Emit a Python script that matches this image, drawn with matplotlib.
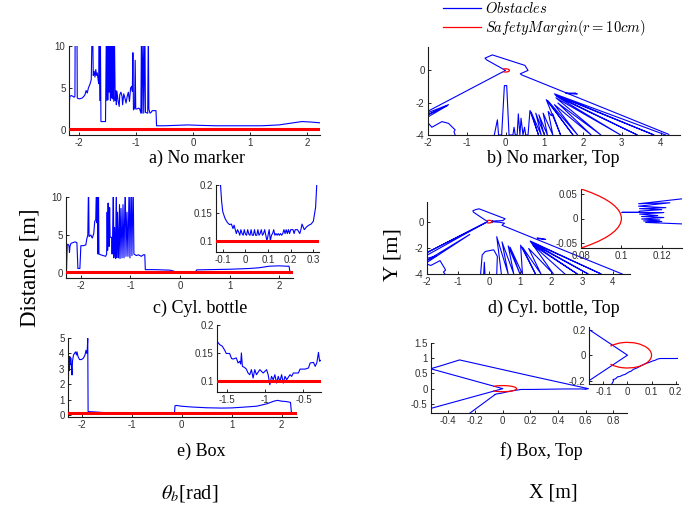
import numpy as np
import matplotlib
matplotlib.use("Agg")
import matplotlib.pyplot as plt
from matplotlib.lines import Line2D
from matplotlib.patches import Arc
from matplotlib.ticker import FuncFormatter
from matplotlib.font_manager import FontProperties

W, H = 691, 507
BLUE = "#0000ff"
RED = "#ff0000"
SERIF = "Liberation Serif"

plt.rcParams.update({
    "font.family": "Liberation Sans",
    "font.size": 7,
    "axes.unicode_minus": False,
    "mathtext.fontset": "stix",
    "axes.linewidth": 0.8,
    "axes.edgecolor": "#1a1a1a",
    "axes.spines.top": False,
    "axes.spines.right": False,
    "xtick.direction": "in",
    "ytick.direction": "in",
    "xtick.major.size": 2.2,
    "ytick.major.size": 2.2,
    "xtick.major.width": 0.6,
    "ytick.major.width": 0.6,
    "xtick.major.pad": 2.0,
    "ytick.major.pad": 2.5,
    "xtick.labelcolor": "#303030",
    "ytick.labelcolor": "#303030",
})

SAFETY_MARGIN = 0.1  # m

# (theta [rad], distance [m]); 12 marks readings beyond the plotted range
NO_MARKER = [
    (-2.18, 2.7), (-2.165, 4.0), (-2.14, 4.1), (-2.11, 4.0), (-2.09, 3.9), (-2.076, 4.0),
    (-2.072, 12), (-2.04, 12), (-2.035, 3.8), (-2.0, 3.7), (-1.95, 3.8), (-1.92, 4.0),
    (-1.9, 4.2), (-1.88, 4.7), (-1.86, 4.4), (-1.84, 5.0), (-1.81, 5.5), (-1.79, 6.0),
    (-1.775, 12), (-1.765, 12), (-1.755, 6.5), (-1.74, 7.0), (-1.725, 6.3), (-1.71, 7.2),
    (-1.7, 6.5), (-1.685, 6.8), (-1.67, 6.0), (-1.66, 5.5), (-1.65, 12), (-1.64, 3.5),
    (-1.63, 12), (-1.62, 1.0), (-1.58, 1.0), (-1.54, 1.0), (-1.525, 12), (-1.515, 3.5),
    (-1.505, 12), (-1.495, 3.6), (-1.485, 12), (-1.475, 4.5), (-1.465, 12), (-1.455, 3.5),
    (-1.445, 12), (-1.435, 3.8), (-1.425, 12), (-1.415, 3.7), (-1.405, 12), (-1.395, 3.4),
    (-1.385, 12), (-1.37, 3.5), (-1.36, 4.7), (-1.35, 3.0), (-1.34, 4.6), (-1.32, 3.5),
    (-1.3, 2.8), (-1.29, 4.2), (-1.27, 4.5), (-1.25, 4.0), (-1.24, 3.0), (-1.22, 4.3),
    (-1.2, 3.8), (-1.18, 3.2), (-1.16, 4.0), (-1.14, 4.5), (-1.12, 3.4), (-1.1, 5.0),
    (-1.08, 5.2), (-1.07, 4.6), (-1.06, 9.2), (-1.05, 2.4), (-1.03, 2.6), (-1.02, 8.3),
    (-1.01, 2.5), (-0.99, 2.5), (-0.96, 2.6), (-0.94, 2.5), (-0.92, 2.0), (-0.91, 12),
    (-0.9, 2.0), (-0.88, 12), (-0.87, 2.0), (-0.85, 12), (-0.84, 2.1), (-0.8, 2.0),
    (-0.79, 12), (-0.78, 2.5), (-0.76, 2.0), (-0.74, 2.1), (-0.72, 2.3), (-0.68, 2.3),
    (-0.655, 2.3), (-0.645, 0.5), (-0.5, 0.5), (-0.3, 0.55), (-0.1, 0.6), (0.1, 0.55),
    (0.4, 0.5), (0.8, 0.5), (1.2, 0.5), (1.5, 0.6), (1.7, 0.8), (1.9, 1.0), (2.05, 0.95),
    (2.22, 0.85),
]

CYL_BOTTLE = [
    (-2.29, 0.3), (-2.275, 3.7), (-2.26, 3.8), (-2.24, 3.6), (-2.23, 2.7), (-2.22, 3.5),
    (-2.2, 3.9), (-2.16, 4.0), (-2.12, 4.1), (-2.08, 4.0), (-2.06, 0.6), (-2.02, 0.6),
    (-2.0, 3.6), (-1.95, 3.6), (-1.9, 3.7), (-1.88, 4.5), (-1.86, 5.0), (-1.845, 12),
    (-1.835, 4.8), (-1.8, 5.0), (-1.77, 4.6), (-1.74, 5.2), (-1.72, 6.8), (-1.7, 7.0),
    (-1.685, 12), (-1.675, 6.6), (-1.665, 12), (-1.655, 2.5), (-1.645, 12), (-1.635, 2.5),
    (-1.6, 2.4), (-1.55, 2.3), (-1.5, 2.2), (-1.48, 2.5), (-1.47, 8.0), (-1.46, 3.0),
    (-1.45, 9.2), (-1.44, 5.0), (-1.43, 3.5), (-1.42, 8.6), (-1.41, 4.7), (-1.38, 4.7),
    (-1.37, 2.5), (-1.36, 4.6), (-1.345, 12), (-1.335, 2.0), (-1.32, 6.0), (-1.3, 1.9),
    (-1.285, 12), (-1.275, 2.0), (-1.26, 8.0), (-1.24, 2.0), (-1.22, 9.0), (-1.21, 1.9),
    (-1.19, 8.5), (-1.17, 2.0), (-1.15, 9.0), (-1.13, 2.0), (-1.105, 12), (-1.09, 2.2),
    (-1.07, 8.0), (-1.05, 2.2), (-1.025, 12), (-1.01, 2.0), (-0.985, 12), (-0.97, 2.3),
    (-0.945, 12), (-0.93, 2.5), (-0.88, 2.3), (-0.84, 2.4), (-0.78, 2.2), (-0.74, 2.4),
    (-0.71, 2.4), (-0.7, 0.45), (-0.5, 0.45), (-0.3, 0.4), (-0.2, 0.38), (-0.15, 0.3),
    (-0.12, 0.24),
    # close to the bottle
    (-0.11, 0.2), (-0.105, 0.17), (-0.1, 0.152), (-0.09, 0.14), (-0.08, 0.133),
    (-0.07, 0.129), (-0.062, 0.13), (-0.055, 0.122), (-0.05, 0.128), (-0.045, 0.12),
    (-0.04, 0.113), (-0.035, 0.12), (-0.03, 0.116), (-0.025, 0.11), (-0.02, 0.12),
    (-0.015, 0.113), (-0.01, 0.11), (-0.005, 0.12), (0.0, 0.112), (0.005, 0.11),
    (0.01, 0.12), (0.015, 0.112), (0.02, 0.11), (0.025, 0.12), (0.03, 0.11),
    (0.035, 0.11), (0.04, 0.12), (0.045, 0.11), (0.05, 0.11), (0.055, 0.12),
    (0.06, 0.11), (0.065, 0.113), (0.07, 0.12), (0.075, 0.11), (0.08, 0.113),
    (0.085, 0.12), (0.09, 0.11), (0.095, 0.1), (0.1, 0.11), (0.105, 0.12),
    (0.11, 0.1), (0.115, 0.11), (0.12, 0.113), (0.125, 0.12), (0.13, 0.11),
    (0.135, 0.113), (0.14, 0.11), (0.145, 0.113), (0.15, 0.11), (0.155, 0.113),
    (0.16, 0.11), (0.165, 0.113), (0.17, 0.12), (0.175, 0.113), (0.18, 0.12),
    (0.185, 0.113), (0.19, 0.12), (0.195, 0.113), (0.2, 0.12), (0.21, 0.12),
    (0.215, 0.113), (0.22, 0.12), (0.23, 0.12), (0.24, 0.113), (0.245, 0.12),
    (0.25, 0.13), (0.26, 0.12), (0.27, 0.125), (0.28, 0.128), (0.29, 0.13),
    (0.3, 0.135), (0.31, 0.16), (0.315, 0.2), (0.325, 0.3),
    (0.34, 0.42), (0.6, 0.45), (1.0, 0.5), (1.4, 0.6), (1.6, 0.7), (1.8, 0.9),
    (2.0, 0.95), (2.15, 0.9), (2.2, 0.9), (2.22, 0.1),
]

BOX = [
    (-2.27, 0.2), (-2.255, 3.8), (-2.25, 3.0), (-2.245, 3.7), (-2.24, 2.9), (-2.235, 3.8),
    (-2.225, 3.3), (-2.215, 3.7), (-2.2, 3.1), (-2.19, 2.6), (-2.18, 3.5), (-2.16, 3.9),
    (-2.14, 4.0), (-2.12, 4.1), (-2.1, 3.9), (-2.09, 4.1), (-2.07, 3.8), (-2.04, 3.6),
    (-2.0, 3.6), (-1.96, 3.7), (-1.93, 3.9), (-1.91, 4.2), (-1.895, 4.0), (-1.885, 4.2),
    (-1.875, 4.98), (-1.868, 0.22), (-1.8, 0.21), (-1.7, 0.19), (-1.65, 0.18),
    # close to the box
    (-1.63, 0.171), (-1.596, 0.165), (-1.561, 0.162), (-1.53, 0.155), (-1.509, 0.149),
    (-1.465, 0.149), (-1.44, 0.14), (-1.421, 0.139), (-1.377, 0.141), (-1.355, 0.132),
    (-1.333, 0.135), (-1.32, 0.13), (-1.311, 0.15), (-1.298, 0.126), (-1.27, 0.124),
    (-1.246, 0.121), (-1.224, 0.114), (-1.202, 0.111), (-1.18, 0.12), (-1.158, 0.105),
    (-1.136, 0.12), (-1.114, 0.111), (-1.07, 0.12), (-1.026, 0.114), (-0.982, 0.12),
    (-0.961, 0.111), (-0.939, 0.093), (-0.917, 0.108), (-0.895, 0.102), (-0.873, 0.111),
    (-0.851, 0.096), (-0.829, 0.108), (-0.807, 0.099), (-0.785, 0.111), (-0.763, 0.096),
    (-0.741, 0.108), (-0.719, 0.102), (-0.675, 0.111), (-0.654, 0.108), (-0.632, 0.114),
    (-0.566, 0.114), (-0.544, 0.121), (-0.478, 0.121), (-0.434, 0.123), (-0.412, 0.132),
    (-0.368, 0.133), (-0.346, 0.126), (-0.325, 0.132), (-0.303, 0.151), (-0.289, 0.135),
    (-0.272, 0.137),
    (-0.2, 0.13), (-0.14, 0.14), (-0.13, 0.6), (-0.1, 0.62), (0.0, 0.57), (0.2, 0.52),
    (0.5, 0.47), (0.8, 0.45), (1.0, 0.46), (1.2, 0.5), (1.5, 0.57), (1.7, 0.72),
    (1.85, 0.9), (1.92, 0.95), (2.0, 0.9), (2.1, 0.87), (2.18, 0.82), (2.2, 0.1),
]

# top views (x, y) [m]; None separates strokes
TOP_NO_MARKER = [
    (-1.30, -4.0), (-1.33, -3.80), (-1.30, -3.68), (-1.37, -3.52), (-1.47, -3.28),
    (-1.64, -3.17), (-1.90, -3.52), (-1.98, -3.30), None,
    (-1.98, -2.85), (-1.50, -2.18), (-1.98, -2.72), (-1.47, -2.12), (-1.98, -2.60),
    (-1.98, -2.50), (0.0, 0.0), (-0.48, 0.64), (-0.53, 0.76), (-0.34, 0.96),
    (0.50, 0.31), (0.58, 0.0), (0.38, -0.21), (0.42, -0.28), (4.21, -3.96), None,
    (-0.29, -4.0), (-0.21, -3.06), (-0.18, -4.0), (-0.10, -4.0), (-0.03, -0.94),
    (0.03, -0.94), (0.09, -4.0), (0.19, -4.0), (0.22, -3.52), (0.25, -4.0), (0.30, -4.0),
    (0.33, -2.69), (0.37, -4.0), (0.40, -2.96), (0.45, -4.0), (0.49, -3.52), (0.52, -4.0),
    (0.58, -4.0), (0.63, -2.48), (0.85, -4.0), (0.66, -2.58), (0.92, -4.0), (0.78, -2.65),
    (1.0, -4.0), (0.86, -2.75), (1.08, -4.0), (0.97, -2.65), (1.22, -4.0), (1.10, -2.54),
    (1.18, -2.80), (1.22, -2.70), (1.42, -4.0), (1.05, -1.81), (1.74, -4.0), (1.09, -1.87),
    (1.86, -4.0), (1.26, -2.12), (2.21, -4.0), (1.35, -2.02), (2.46, -4.0), (1.30, -1.70),
    (2.97, -4.0), (1.31, -1.60), (3.40, -4.0), (1.28, -1.52), (3.83, -4.0), (1.26, -1.45),
    (4.13, -4.0), None,
    (1.55, -1.40), (1.85, -1.45), (1.58, -1.43), (1.80, -1.40),
]

TOP_CYL_BOTTLE = [
    (-1.42, -4.0), (-1.47, -3.85), (-1.40, -3.70), (-1.46, -3.45), (-1.58, -2.98),
    (-1.88, -3.35), (-1.99, -3.25), None,
    (-1.99, -3.10), (-0.62, -0.98), (-1.99, -2.95), (-1.70, -2.62), (-1.99, -2.80), None,
    (-1.99, -2.55), (-0.10, -0.06), (-1.99, -2.35), (-0.04, -0.01), (-0.50, 0.72),
    (-0.52, 0.83), (-0.43, 0.92), (-0.32, 0.98), (0.52, 0.22), (0.45, 0.08), (0.25, 0.06),
    (0.13, 0.040), (0.1085, 0.030), (0.124, 0.032), (0.1085, 0.025), (0.122, 0.022),
    (0.109, 0.020), (0.120, 0.018), (0.109, 0.015), (0.1085, 0.0125), (0.1003, 0.0125),
    (0.1085, 0.0125), (0.121, 0.012), (0.109, 0.009), (0.118, 0.006), (0.110, 0.004),
    (0.121, 0.002), (0.110, -0.001), (0.119, -0.003), (0.111, -0.005), (0.120, -0.006),
    (0.112, -0.008), (0.130, -0.011), (0.35, -0.05), (0.50, -0.12), (0.42, -0.28),
    (4.30, -4.0), None,
    (-0.27, -4.0), (-0.22, -2.55), (-0.12, -2.28), (0.15, -2.15), (0.27, -2.65),
    (0.25, -4.0), None,
    (-0.17, -4.0), (-0.15, -3.1), (-0.13, -4.0), None,
    (0.40, -4.0), (0.25, -1.15), (0.62, -4.0), (0.42, -1.55), (0.80, -4.0), (0.62, -1.85),
    (1.0, -4.0), (0.68, -1.95), (1.08, -4.0), (1.02, -1.80), (1.50, -4.0), (1.08, -1.95),
    (1.68, -4.0), (1.28, -2.05), (2.08, -4.0), (1.33, -1.48), (3.62, -4.0), (1.36, -1.56),
    (3.20, -4.0), (1.40, -1.68), (2.85, -4.0), (1.42, -1.80), (2.45, -4.0), None,
    (1.56, -1.24), (1.83, -1.36), (1.58, -1.30),
]

TOP_BOX = [
    (-0.27, -0.86), (-0.24, -0.81), (-0.064, -0.221), (-0.058, -0.20), (-0.060, -0.19),
    (-0.050, -0.185), (-0.041, -0.169), (-0.030, -0.165), (-0.021, -0.156), (-0.010, -0.15),
    (0.007, -0.13), (0.015, -0.125), (0.025, -0.11), (0.034, -0.104), (0.045, -0.095),
    (0.055, -0.083), (0.065, -0.075), (0.075, -0.065), (0.085, -0.06), (0.096, -0.052),
    (0.105, -0.045), (0.116, -0.039), (0.125, -0.03), (0.137, -0.026), (0.158, -0.026),
    (0.199, -0.026), (0.3, -0.02), (0.45, -0.01), (0.57, -0.01), (0.60, -0.02),
    (0.62, 0.0), (0.59, 0.03), (0.45, 0.17), (0.2, 0.42), (-0.313, 0.944),
    (-0.45, 0.75), (-0.523, 0.655), (0.0, 0.0), (-0.53, -0.66), (-0.6, -0.75),
]


def unpack(points):
    arr = np.array([(np.nan, np.nan) if p is None else p for p in points], dtype=float)
    return arr[:, 0], arr[:, 1]


def px_axes(fig, left, top, right, bottom):
    return fig.add_axes([left / W, 1 - bottom / H, (right - left) / W, (bottom - top) / H])


def style(ax, xlim, ylim, xticks, yticks):
    ax.set_xlim(xlim)
    ax.set_ylim(ylim)
    ax.set_xticks(xticks)
    ax.set_yticks(yticks)
    fmt = FuncFormatter(lambda v, _: f"{v:g}")
    ax.xaxis.set_major_formatter(fmt)
    ax.yaxis.set_major_formatter(fmt)


def distance_plot(ax, points):
    th, d = unpack(points)
    ax.plot(th, d, color=BLUE, lw=0.8, zorder=2)
    ax.axhline(SAFETY_MARGIN, color=RED, lw=2.2, zorder=3)


def top_plot(ax, points):
    x, y = unpack(points)
    ax.plot(x, y, color=BLUE, lw=0.8, zorder=2)
    ax.add_patch(Arc((0, 0), 2 * SAFETY_MARGIN, 2 * SAFETY_MARGIN, theta1=-135,
                     theta2=135, color=RED, lw=0.9, zorder=3))


fig = plt.figure(figsize=(W / 100, H / 100), dpi=100)

# left column: distance over bearing
ax_a = px_axes(fig, 69, 46, 320, 135)
distance_plot(ax_a, NO_MARKER)
style(ax_a, (-2.18, 2.22), (-0.6, 10), [-2, -1, 0, 1, 2], [0, 5, 10])

ax_c = px_axes(fig, 66, 197, 293, 278)
distance_plot(ax_c, CYL_BOTTLE)
style(ax_c, (-2.3, 2.28), (-0.65, 10), [-2, -1, 0, 1, 2], [0, 5, 10])

ax_ci = px_axes(fig, 216, 185, 319, 252)
distance_plot(ax_ci, CYL_BOTTLE)
style(ax_ci, (-0.13, 0.325), (0.08, 0.2), [-0.1, 0, 0.1, 0.2, 0.3], [0.1, 0.15, 0.2])

ax_e = px_axes(fig, 68, 338, 297, 417)
distance_plot(ax_e, BOX)
style(ax_e, (-2.27, 2.31), (-0.13, 5), [-2, -1, 0, 1, 2], [0, 1, 2, 3, 4, 5])

ax_ei = px_axes(fig, 217, 325, 321, 392)
distance_plot(ax_ei, BOX)
style(ax_ei, (-1.63, -0.27), (0.08, 0.2), [-1.5, -1, -0.5], [0.1, 0.15, 0.2])

# right column: top views
ax_b = px_axes(fig, 428, 47, 680, 135)
top_plot(ax_b, TOP_NO_MARKER)
style(ax_b, (-2, 4.5), (-4, 1.45), [-2, -1, 0, 1, 2, 3, 4], [-4, -2, 0])

ax_d = px_axes(fig, 427, 202, 630, 274)
top_plot(ax_d, TOP_CYL_BOTTLE)
style(ax_d, (-2, 4.55), (-4, 1.5), [-2, -1, 0, 1, 2, 3, 4], [-4, -2, 0])

ax_di = px_axes(fig, 581, 189, 682, 248)
top_plot(ax_di, TOP_CYL_BOTTLE)
style(ax_di, (0.08, 0.13), (-0.06, 0.06), [0.08, 0.1, 0.12], [-0.05, 0, 0.05])

ax_f = px_axes(fig, 431, 343, 627, 413)
top_plot(ax_f, TOP_BOX)
style(ax_f, (-0.52, 0.9), (-0.8, 1.5), [-0.4, -0.2, 0, 0.2, 0.4, 0.6, 0.8],
      [-0.5, 0, 0.5, 1, 1.5])

ax_fi = px_axes(fig, 589, 327, 678, 384)
top_plot(ax_fi, TOP_BOX)
style(ax_fi, (-0.16, 0.21), (-0.225, 0.22), [-0.1, 0, 0.1, 0.2], [-0.2, 0, 0.2])

# legend above the top views
handles = [Line2D([], [], color=BLUE, lw=0.9), Line2D([], [], color=RED, lw=0.9)]
fig.legend(handles, [r"$Obstacles$", r"$SafetyMargin(r=10cm)$"],
           loc="upper left", bbox_to_anchor=(443 / W, 1 - 1 / H), frameon=False,
           prop=FontProperties(size=10.5, math_fontfamily="cm"), handlelength=2.6,
           handletextpad=0.3, labelspacing=0.15, borderpad=0.0, borderaxespad=0)

captions = [
    (197, 158, "a) No marker"), (553, 158, "b) No marker, Top"),
    (200, 308, "c) Cyl. bottle"), (554, 308, "d) Cyl. bottle, Top"),
    (201, 451, "e) Box"), (541, 451, "f) Box, Top"),
]
for cx, cy, txt in captions:
    fig.text(cx / W, 1 - cy / H, txt, ha="center", va="center", family=SERIF, size=13)

fig.text(30 / W, 1 - 268 / H, "Distance [m]", rotation=90, ha="center", va="center",
         family=SERIF, size=16.5)
fig.text(393 / W, 1 - 255 / H, "Y [m]", rotation=90, ha="center", va="center",
         family=SERIF, size=16)
fig.text(190 / W, 1 - 493 / H, r"$\theta_b$[rad]", ha="center", va="center",
         family=SERIF, size=14.5)
fig.text(553 / W, 1 - 493 / H, "X [m]", ha="center", va="center", family=SERIF, size=14.5)

fig.savefig("out.png", dpi=100)
